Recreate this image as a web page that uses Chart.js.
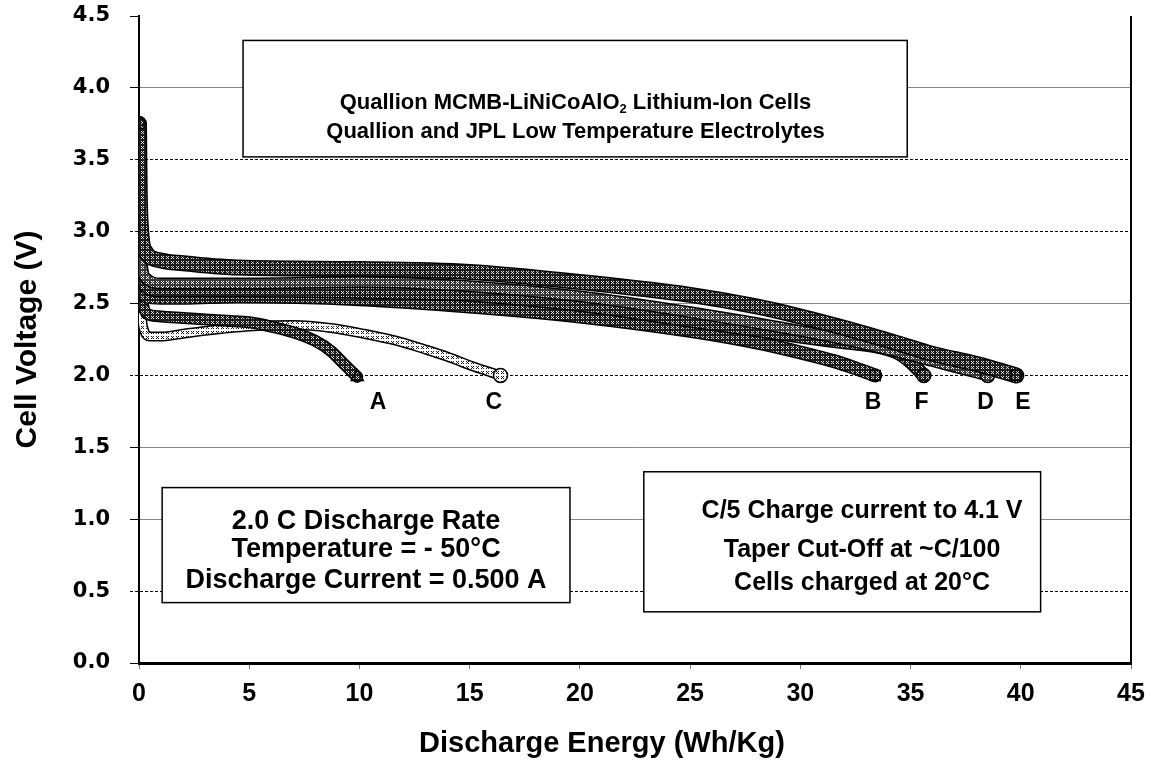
<!DOCTYPE html>
<html>
<head>
<meta charset="utf-8">
<script src="https://cdn.jsdelivr.net/npm/chart.js@4.4.1/dist/chart.umd.min.js"></script>
<style>
html, body { margin: 0; padding: 0; background: #fff; }
</style>
</head>
<body>
<canvas id="chart-discharge" width="1151" height="766"></canvas>
<script>
// 放电曲线 (Wh/Kg -> V), 六个电池 A-F
const energyA = [0, 0.03, 0.08, 0.2, 0.5, 1, 2, 3, 4, 5, 6, 7, 8, 8.7, 9.3, 9.9];
const voltA   = [3.48, 3.1, 2.7, 2.48, 2.42, 2.41, 2.40, 2.39, 2.38, 2.37, 2.34, 2.30, 2.24, 2.17, 2.08, 1.99];

const energyB = [0, 0.03, 0.1, 0.3, 1, 2, 4.5, 10, 15, 20, 25, 28, 30, 31.5, 32.5, 33.4];
const voltB   = [3.2, 2.9, 2.65, 2.55, 2.54, 2.54, 2.55, 2.53, 2.48, 2.41, 2.31, 2.23, 2.16, 2.10, 2.05, 2.0];

const energyC = [0, 0.03, 0.08, 0.2, 0.5, 1, 2, 3, 5, 7, 8.7, 10.2, 11.7, 13, 14, 15.2, 16.4];
const voltC   = [3.62, 3.1, 2.6, 2.33, 2.27, 2.27, 2.29, 2.31, 2.34, 2.35, 2.33, 2.29, 2.24, 2.18, 2.13, 2.06, 2.0];

const energyD = [0, 0.03, 0.1, 0.3, 1, 2, 5, 10, 15, 20, 25, 30, 32, 34, 36, 37.5, 38.5];
const voltD   = [3.3, 3.0, 2.8, 2.68, 2.64, 2.64, 2.64, 2.65, 2.62, 2.55, 2.44, 2.31, 2.25, 2.18, 2.10, 2.04, 2.0];

const energyE = [0, 0.03, 0.1, 0.3, 1, 2, 4.5, 10, 15, 20, 25, 28, 30, 32, 34.5, 36, 38, 39.8];
const voltE   = [3.75, 3.3, 3.0, 2.86, 2.80, 2.78, 2.75, 2.74, 2.72, 2.65, 2.56, 2.48, 2.41, 2.33, 2.22, 2.15, 2.08, 2.0];

const energyF = [0, 0.03, 0.1, 0.3, 1, 2, 5, 10, 15, 20, 25, 30, 32, 33.5, 34.5, 35.1, 35.6];
const voltF   = [3.4, 3.0, 2.75, 2.62, 2.59, 2.59, 2.59, 2.58, 2.56, 2.49, 2.38, 2.27, 2.23, 2.20, 2.15, 2.08, 2.0];

const curveNames = ['A', 'B', 'C', 'D', 'E', 'F'];
const xTickValues = [0, 5, 10, 15, 20, 25, 30, 35, 40, 45];
const yTickValues = [0, 0.5, 1.0, 1.5, 2.0, 2.5, 3.0, 3.5, 4.0, 4.5];
// 虚线网格
const dottedTicks = [0.5, 2.0, 3.0, 3.5];

const xTitle = 'Discharge Energy (Wh/Kg)';
const yTitle = 'Cell Voltage (V)';
const boxTitle = ['Quallion MCMB-LiNiCoAlO|2| Lithium-Ion Cells', 'Quallion and JPL Low Temperature Electrolytes'];
const boxTest = ['2.0 C Discharge Rate', 'Temperature = - 50°C', 'Discharge Current = 0.500 A'];
const boxCharge = ['C/5 Charge current to 4.1 V', 'Taper Cut-Off at ~C/100', 'Cells charged at 20°C'];

function pairs(xs, ys) {
  return xs.map((v, i) => ({ x: v, y: ys[i] }));
}

// 交叉线纹理
function makePattern(bg, fg) {
  const c = document.createElement('canvas');
  c.width = 5; c.height = 5;
  const g = c.getContext('2d');
  g.fillStyle = bg; g.fillRect(0, 0, 5, 5);
  g.fillStyle = fg;
  [[1, 1], [3, 1], [2, 2], [1, 3], [3, 3]].forEach(p => g.fillRect(p[0], p[1], 1, 1));
  return g.createPattern(c, 'repeat');
}
const darkFill = makePattern('#1c1c1c', '#dddddd');
const midFill = makePattern('#3a3a3a', '#ffffff');
const lightFill = makePattern('#ffffff', '#1c1c1c');

const curves = [
  { pts: pairs(energyC, voltC), fill: lightFill, marker: 'circle', w: 7 },
  { pts: pairs(energyA, voltA), fill: darkFill, marker: 'triangle', w: 9 },
  { pts: pairs(energyB, voltB), fill: darkFill, marker: 'rect', w: 11 },
  { pts: pairs(energyF, voltF), fill: darkFill, marker: 'circle', w: 11 },
  { pts: pairs(energyD, voltD), fill: midFill, marker: 'circle', w: 9 },
  { pts: pairs(energyE, voltE), fill: darkFill, marker: 'rect', w: 13 }
];

const datasets = [];
curves.forEach((c, i) => {
  const last = c.pts.length - 1;
  datasets.push({
    data: c.pts, showLine: true, borderColor: '#000', borderWidth: c.w + 3,
    pointRadius: 0, order: 100 - 2 * i, cubicInterpolationMode: 'monotone',
    borderCapStyle: 'round', borderJoinStyle: 'round'
  });
  datasets.push({
    data: c.pts, showLine: true, borderColor: c.fill, borderWidth: c.w,
    order: 99 - 2 * i, cubicInterpolationMode: 'monotone',
    borderCapStyle: 'round', borderJoinStyle: 'round',
    pointStyle: c.marker,
    pointRadius: ctx => (ctx.dataIndex === 0 || ctx.dataIndex === last) ? 7 : 0,
    pointBackgroundColor: c.fill, pointBorderColor: '#000', pointBorderWidth: 1.5
  });
});

// 文本框和曲线标签
const notes = [
  { x0: 4.72, x1: 34.85, y0: 4.33, y1: 3.52, cx: 19.8, lines: boxTitle, ys: [3.894, 3.693], size: 22 },
  { x0: 1.05, x1: 19.55, y0: 1.22, y1: 0.42, cx: 10.3, lines: boxTest, ys: [0.987, 0.786, 0.570], size: 27 },
  { x0: 22.9, x1: 40.9, y0: 1.33, y1: 0.356, cx: 32.8, lines: boxCharge, ys: [1.057, 0.786, 0.556], size: 25 }
];
const tagPos = { A: [10.84, 1.81], B: [33.3, 1.81], C: [16.1, 1.81], D: [38.4, 1.81], E: [40.1, 1.81], F: [35.5, 1.81] };

function drawRuns(ctx, text, cx, cy, size) {
  const parts = text.split('|');
  const big = 'bold ' + size + 'px "Liberation Sans", Arial, sans-serif';
  const small = 'bold ' + Math.round(size * 0.6) + 'px "Liberation Sans", Arial, sans-serif';
  let total = 0;
  parts.forEach((p, k) => { ctx.font = k % 2 ? small : big; total += ctx.measureText(p).width; });
  let xx = cx - total / 2;
  ctx.textAlign = 'left';
  parts.forEach((p, k) => {
    ctx.font = k % 2 ? small : big;
    ctx.fillText(p, xx, k % 2 ? cy + size * 0.3 : cy);
    xx += ctx.measureText(p).width;
  });
}

const annotate = {
  id: 'annotate',
  beforeDatasetsDraw(chart) {
    const { ctx, chartArea, scales: { x, y } } = chart;
    ctx.save();
    ctx.strokeStyle = '#000';
    ctx.lineWidth = 2;
    ctx.beginPath();
    ctx.moveTo(chartArea.right, chartArea.top);
    ctx.lineTo(chartArea.right, chartArea.bottom);
    ctx.stroke();
    notes.forEach(b => {
      const l = x.getPixelForValue(b.x0), r = x.getPixelForValue(b.x1);
      const t = y.getPixelForValue(b.y0), bt = y.getPixelForValue(b.y1);
      ctx.fillStyle = '#fff';
      ctx.fillRect(l, t, r - l, bt - t);
      ctx.strokeStyle = '#000';
      ctx.lineWidth = 1.5;
      ctx.strokeRect(l, t, r - l, bt - t);
      ctx.fillStyle = '#000';
      ctx.textBaseline = 'middle';
      b.lines.forEach((s, k) => drawRuns(ctx, s, x.getPixelForValue(b.cx), y.getPixelForValue(b.ys[k]), b.size));
    });
    ctx.restore();
  },
  afterDatasetsDraw(chart) {
    const { ctx, scales: { x, y } } = chart;
    ctx.save();
    ctx.fillStyle = '#000';
    ctx.font = 'bold 23px "Liberation Sans", Arial, sans-serif';
    ctx.textAlign = 'center';
    ctx.textBaseline = 'middle';
    curveNames.forEach(n => {
      ctx.fillText(n, x.getPixelForValue(tagPos[n][0]), y.getPixelForValue(tagPos[n][1]));
    });
    // 横轴标题
    ctx.font = 'bold 29px "Liberation Sans", Arial, sans-serif';
    ctx.fillText(xTitle, x.getPixelForValue(21), chart.height - 22);
    ctx.restore();
  }
};

new Chart(document.getElementById('chart-discharge').getContext('2d'), {
  type: 'scatter',
  data: { datasets: datasets },
  options: {
    responsive: false,
    animation: false,
    layout: { padding: { top: 16, right: 20, left: 0, bottom: 0 } },
    plugins: { legend: { display: false }, tooltip: { enabled: false } },
    scales: {
      x: {
        type: 'linear', min: 0, max: 45,
        afterBuildTicks: s => { s.ticks = xTickValues.map(v => ({ value: v })); },
        afterFit: s => { s.height = 103; s.paddingLeft = 0; s.paddingRight = 0; },
        ticks: {
          color: '#000', padding: 10, maxRotation: 0,
          font: { family: '"Liberation Sans", Arial, sans-serif', weight: 'bold', size: 25 }
        },
        grid: { drawOnChartArea: false, drawTicks: true, tickLength: 6, tickColor: '#777' },
        border: { display: true, color: '#000', width: 3 }
      },
      y: {
        type: 'linear', min: 0, max: 4.5,
        afterBuildTicks: s => { s.ticks = yTickValues.map(v => ({ value: v })); },
        afterFit: s => { s.width = 139; s.paddingTop = 0; s.paddingBottom = 0; },
        ticks: {
          color: '#000', padding: 20,
          callback: v => v.toFixed(1),
          font: { family: '"DejaVu Sans", sans-serif', weight: 'bold', size: 21 }
        },
        grid: {
          drawTicks: true, tickLength: 9, lineWidth: 1,
          color: c => (c.tick && (c.tick.value === 0 || c.tick.value === 4.5)) ? 'rgba(0,0,0,0)'
            : (c.tick && dottedTicks.includes(c.tick.value) ? '#000' : '#888'),
          tickColor: '#000',
          tickBorderDash: c => (c.tick && dottedTicks.includes(c.tick.value)) ? [3, 2] : []
        },
        border: {
          display: true, color: '#000', width: 2,
          dash: c => (c.tick && dottedTicks.includes(c.tick.value)) ? [3, 2] : []
        },
        title: {
          display: true, text: yTitle, color: '#000',
          padding: { top: 10, bottom: 0 },
          font: { family: '"Liberation Sans", Arial, sans-serif', weight: 'bold', size: 30 }
        }
      }
    }
  },
  plugins: [annotate]
});
</script>
</body>
</html>
